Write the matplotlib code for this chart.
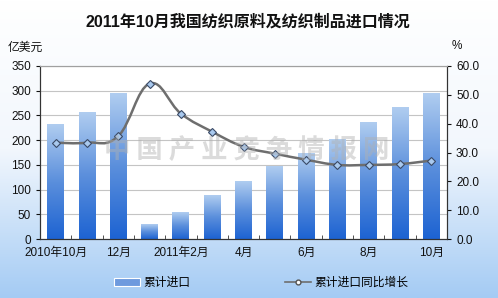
import numpy as np
import matplotlib
matplotlib.use("Agg")
import matplotlib.pyplot as plt
from matplotlib.path import Path
from matplotlib.patches import PathPatch, Patch
from matplotlib.lines import Line2D
from matplotlib.colors import LinearSegmentedColormap

plt.rcParams['font.family'] = ['Liberation Sans', 'Noto Sans CJK SC', 'DejaVu Sans']

months = ["2010年10月", "11月", "12月", "2011年1月", "2011年2月", "3月", "4月",
          "5月", "6月", "7月", "8月", "9月", "10月"]
tick_labels = ["2010年10月", "", "12月", "", "2011年2月", "", "4月", "", "6月", "", "8月", "", "10月"]
imports = [231, 256, 294, 30, 53, 88, 117, 146, 173, 202, 235, 266, 294]
growth = [33.4, 33.4, 35.7, 53.9, 43.5, 37.2, 32.0, 29.6, 27.5, 25.7, 25.7, 26.0, 27.2]

W, H = 498, 298
fig = plt.figure(figsize=(W / 100, H / 100), dpi=100)

# background gradient
bg = fig.add_axes([0, 0, 1, 1], zorder=-10)
bg_cmap = LinearSegmentedColormap.from_list("bg", ["#ffffff", "#f2f7fd", "#a4cbf4"])
bg.imshow(np.linspace(0, 1, 256).reshape(-1, 1), cmap=bg_cmap, aspect='auto',
          extent=[0, 1, 0, 1], origin='upper')
bg.axis('off')

left, right, bottom, top = 40 / W, 447 / W, (H - 239) / H, (H - 66) / H
ax = fig.add_axes([left, bottom, right - left, top - bottom])
ax.set_facecolor('white')
ax2 = ax.twinx()

x = np.arange(len(months))
bw = 0.54
bar_cmap = LinearSegmentedColormap.from_list("bar", ["#1d63d2", "#5b8fdc", "#b0cdf0"])
grad = np.linspace(0, 1, 256).reshape(-1, 1)
for xi, v in zip(x, imports):
    ax.imshow(grad, cmap=bar_cmap, aspect='auto', origin='lower',
              extent=[xi - bw / 2, xi + bw / 2, 0, v], zorder=2)

ax.set_xlim(-0.5, len(months) - 0.5)
ax.set_ylim(0, 350)
ax.set_yticks(np.arange(0, 351, 50))
ax.yaxis.grid(True, color='#c4c4c4', linewidth=0.8, zorder=0)
ax.set_axisbelow(True)
ax.set_xticks(x)
ax.set_xticklabels(tick_labels)
ax.set_xticks(np.arange(-0.5, len(months), 1), minor=True)
ax.tick_params(axis='x', which='major', length=0, pad=6, labelsize=8.5, colors='#111111')
ax.tick_params(axis='x', which='minor', direction='in', length=3, color='#333333')
ax.tick_params(axis='y', direction='out', length=3, labelsize=8.5, colors='#111111')

# smooth line via cubic bezier (Catmull-Rom) rendering
ax2.set_ylim(0, 60)
ax2.set_yticks(np.arange(0, 61, 10))
ax2.set_yticklabels([f"{v:.1f}" for v in np.arange(0, 61, 10)])
ax2.tick_params(axis='y', direction='out', length=3, labelsize=8.5, colors='#111111')
px = np.array(x, dtype=float)
py = np.array(growth, dtype=float)
verts = [(px[0], py[0])]
codes = [Path.MOVETO]
t = 0.2
for i in range(len(px) - 1):
    p0 = (px[i - 1], py[i - 1]) if i > 0 else (px[i], py[i])
    p1 = (px[i], py[i]); p2 = (px[i + 1], py[i + 1])
    p3 = (px[i + 2], py[i + 2]) if i + 2 < len(px) else p2
    c1 = (p1[0] + (p2[0] - p0[0]) * t, p1[1] + (p2[1] - p0[1]) * t)
    c2 = (p2[0] - (p3[0] - p1[0]) * t, p2[1] - (p3[1] - p1[1]) * t)
    verts += [c1, c2, p2]
    codes += [Path.CURVE4] * 3
ax2.add_patch(PathPatch(Path(verts, codes), facecolor='none', edgecolor='#6e6e6e',
                        linewidth=1.8, zorder=3))
ax2.plot(px, py, linestyle='none', marker='D', markersize=4.2,
         markerfacecolor='#a9c9ee', markeredgecolor='#3a4a66', markeredgewidth=0.8, zorder=4)

for a in (ax, ax2):
    a.spines['top'].set_color('#a0a0a0')
    a.spines['left'].set_color('#333333')
    a.spines['right'].set_color('#333333')
    a.spines['bottom'].set_color('#333333')

# watermark
fig.text(0.495, 1 - 150 / H, "中 国 产 业 竞 争 情 报 网", fontsize=19, color='#b0b0b0', alpha=0.45,
         ha='center', va='center', fontweight='bold', family=['Noto Sans CJK SC'], zorder=5)

fig.text(0.497, 1 - 22 / H, "2011年10月我国纺织原料及纺织制品进口情况", ha='center', va='center',
         fontsize=11.5, fontweight='bold', color='#111111')
fig.text(8 / W, 1 - 48 / H, "亿美元", ha='left', va='center', fontsize=8.5, color='#111111')
fig.text(452 / W, 1 - 46 / H, "%", ha='left', va='center', fontsize=8.5, color='#111111')

handles = [Patch(facecolor='#6e9ade', edgecolor='white', linewidth=0.8),
           Line2D([0], [0], color='#6e6e6e', linewidth=1.2, marker='o', markersize=3.5,
                  markerfacecolor='white', markeredgecolor='#555555')]
fig.legend(handles, ["累计进口", "累计进口同比增长"], loc='center', bbox_to_anchor=(0.525, 1 - 283 / H),
           ncol=2, frameon=False, fontsize=8.5, columnspacing=8, handlelength=2.2,
           handletextpad=0.3)

fig.savefig("out.png", dpi=100)
